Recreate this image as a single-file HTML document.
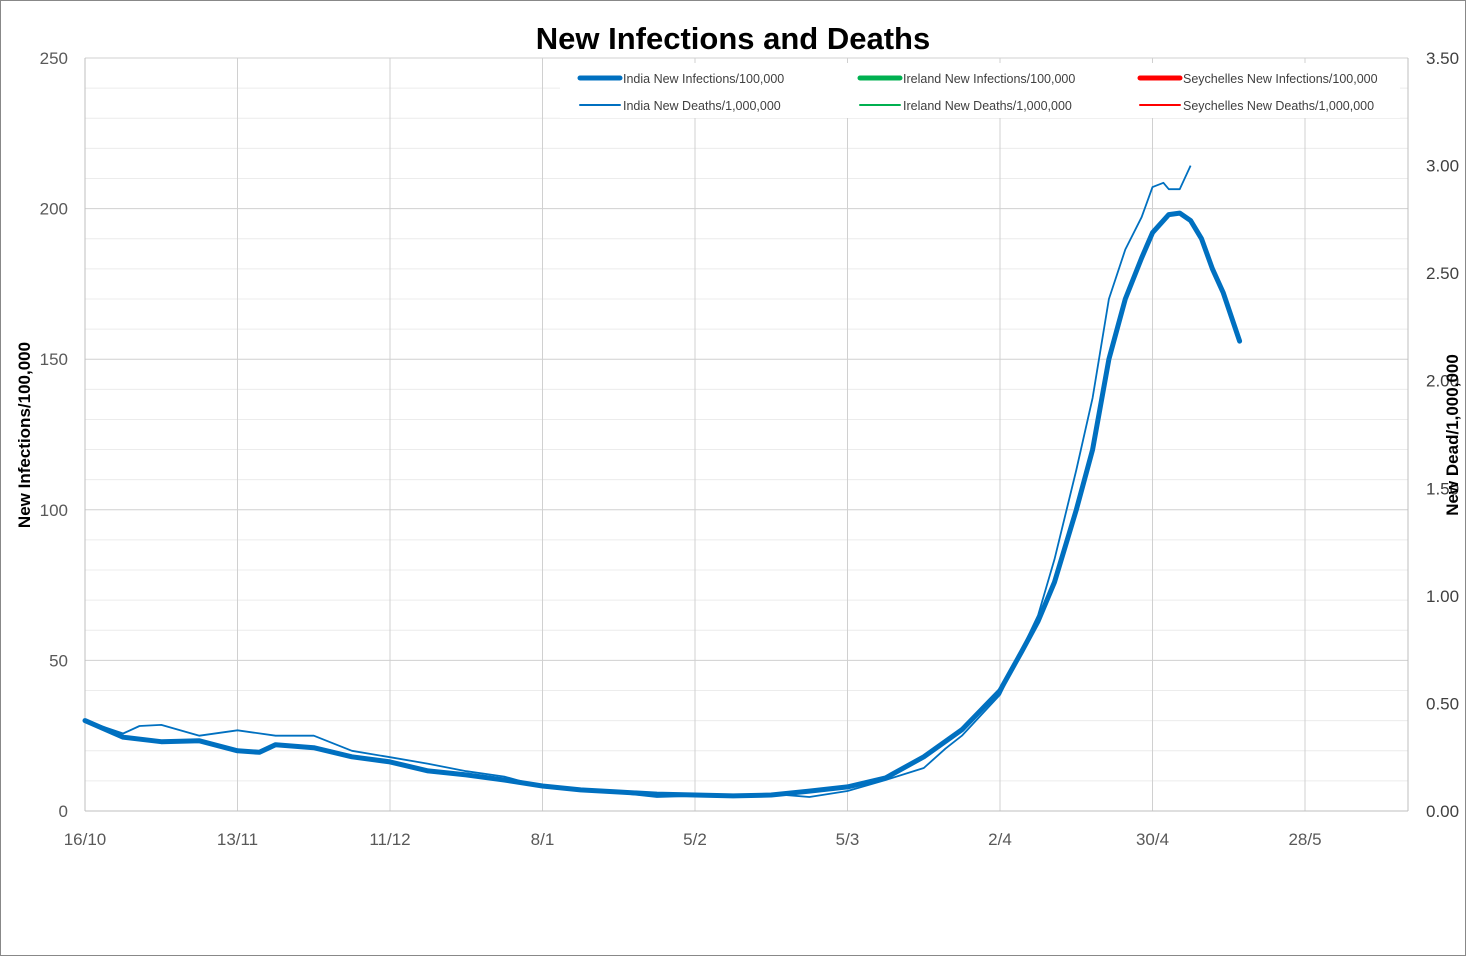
<!DOCTYPE html>
<html><head><meta charset="utf-8"><style>
body{margin:0;background:#fff;}
svg{display:block;font-family:"Liberation Sans",sans-serif;}
</style></head><body>
<svg id="chart" width="1466" height="956" viewBox="0 0 1466 956">
<rect x="0.5" y="0.5" width="1465" height="955" fill="#fff" stroke="#888"/>
<text x="733" y="49" text-anchor="middle" font-size="31" font-weight="bold">New Infections and Deaths</text>
<g id="grid"></g>
<g id="axes"></g>
<g id="legend"></g>
<g id="series"></g>
<text transform="translate(30,435) rotate(-90)" text-anchor="middle" font-size="17" font-weight="bold">New Infections/100,000</text>
<text transform="translate(1458,435) rotate(-90)" text-anchor="middle" font-size="17" font-weight="bold">New Dead/1,000,000</text>
</svg>
<script>
const infDays=[0,7,14,21,28,32,35,42,49,56,63,70,77,84,91,98,105,112,119,126,133,140,147,154,161,168,172,175,178,182,185,188,191,194,196,199,201,203,205,207,209,212];
const infValues=[30,24.5,23,23.3,20,19.5,22,21,18,16.3,13.3,12,10.3,8.3,7,6.3,5.6,5.3,5,5.3,6.6,8,11,18,27,40,53,63,76,100,120,150,170,183.6,192,198,198.5,196,190,180,172,156];
const deathDays=[0,7,10,14,21,28,35,42,49,56,63,70,77,84,91,98,105,112,119,126,133,140,147,154,158,161,168,172,175,178,182,185,188,191,194,196,198,199,201,203];
const deathValues=[0.42,0.36,0.395,0.40,0.35,0.375,0.35,0.35,0.28,0.25,0.22,0.185,0.16,0.11,0.093,0.084,0.065,0.07,0.07,0.08,0.065,0.093,0.144,0.2,0.29,0.35,0.54,0.75,0.91,1.17,1.585,1.92,2.38,2.61,2.76,2.90,2.92,2.89,2.89,3.00];
const xTickLabels=["16/10","13/11","11/12","8/1","5/2","5/3","2/4","30/4","28/5"];
const leftTicks=[0,50,100,150,200,250];
const rightTicks=["0.00","0.50","1.00","1.50","2.00","2.50","3.00","3.50"];
const legendLabels=["India New Infections/100,000","Ireland New Infections/100,000","Seychelles New Infections/100,000","India New Deaths/1,000,000","Ireland New Deaths/1,000,000","Seychelles New Deaths/1,000,000"];
const legendColors=["#0070c0","#00b050","#ff0000","#0070c0","#00b050","#ff0000"];

const X0=85,X1=1408,Y0=811,Y1=58,PXD=(1305-85)/224;
const NS="http://www.w3.org/2000/svg";
const x=d=>X0+d*PXD;
const yL=v=>Y0-(v/250)*(Y0-Y1);
const yR=v=>Y0-(v/3.5)*(Y0-Y1);
function mk(tag,attrs,parent){const e=document.createElementNS(NS,tag);for(const k in attrs)e.setAttribute(k,attrs[k]);document.getElementById(parent).appendChild(e);return e;}

for(let v=0;v<=250;v+=10){
  const g=mk('line',{x1:X0,x2:X1,y1:yL(v),y2:yL(v),stroke:v%50===0?'#d0d0d0':'#ececec','stroke-width':1},'grid');
  
  
}
xTickLabels.forEach((t,i)=>{
  const xx=x(i*28);
  if(i>0){const g=mk('line',{x1:xx,x2:xx,y1:Y1,y2:Y0,stroke:'#d0d0d0'},'grid');
  
  }
  const tk=mk('text',{x:xx,y:845,'text-anchor':'middle','font-size':17,fill:'#595959'},'axes');tk.textContent=t;
  
  
});
leftTicks.forEach(v=>{
  const tk=mk('text',{x:68,y:yL(v)+6,'text-anchor':'end','font-size':17,fill:'#595959'},'axes');tk.textContent=v;
  
  
});
rightTicks.forEach(v=>{
  const tk=mk('text',{x:1426,y:yR(+v)+6,'text-anchor':'start','font-size':17,fill:'#404040'},'axes');tk.textContent=v;
  
  
});
let a=mk('line',{x1:X0,x2:X0,y1:Y1,y2:Y0,stroke:'#bfbfbf'},'axes');


a=mk('line',{x1:X1,x2:X1,y1:Y1,y2:Y0,stroke:'#bfbfbf'},'axes');


a=mk('line',{x1:X0,x2:X1,y1:Y0,y2:Y0,stroke:'#bfbfbf'},'axes');



const lb=mk('rect',{x:560,y:63,width:840,height:55,fill:'#fff'},'legend');


legendLabels.forEach((t,i)=>{
  const col=i%3,row=Math.floor(i/3);
  const lx=580+col*280,ly=78+row*27;
  const ln=mk('line',{x1:lx,x2:lx+40,y1:ly,y2:ly,stroke:legendColors[i],'stroke-width':row===0?5:2,'stroke-linecap':'round'},'legend');
  
  
  const tx=mk('text',{x:lx+43,y:ly+5,'font-size':12.5,fill:'#404040'},'legend');tx.textContent=t;
  
  
});

const dDeath=deathDays.map((d,i)=>(i?'L':'M')+x(d).toFixed(1)+','+yR(deathValues[i]).toFixed(1)).join('');
const p2=mk('path',{d:dDeath,fill:'none',stroke:'#0070c0','stroke-width':1.8,'stroke-linejoin':'round'},'series');


const dInf=infDays.map((d,i)=>(i?'L':'M')+x(d).toFixed(1)+','+yL(infValues[i]).toFixed(1)).join('');
const p1=mk('path',{d:dInf,fill:'none',stroke:'#0070c0','stroke-width':5,'stroke-linejoin':'round','stroke-linecap':'round'},'series');


</script>
</body></html>
